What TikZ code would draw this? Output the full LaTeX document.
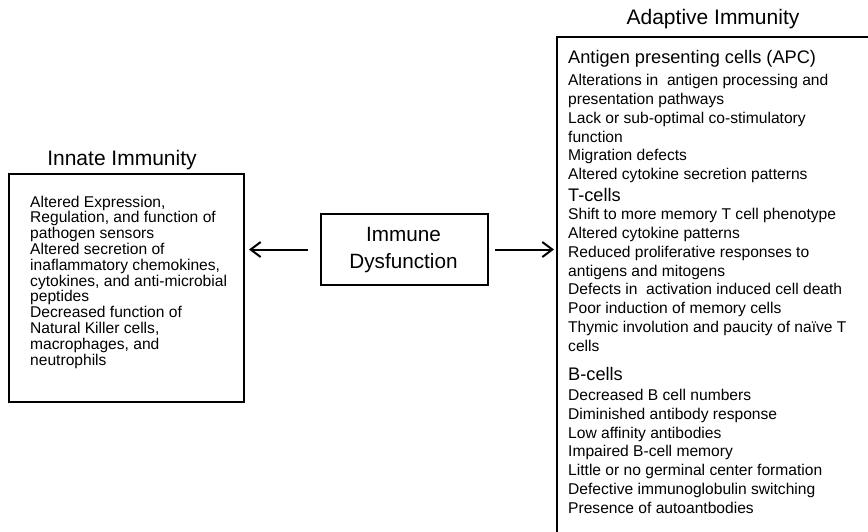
\documentclass[tikz,border=0pt]{standalone}
\usepackage{fontspec}
\setmainfont{Liberation Sans}
\usetikzlibrary{arrows.meta}
\begin{document}
\begin{tikzpicture}[x=1pt,y=-1pt,
  box/.style={draw=black, line width=2pt, inner sep=0pt, anchor=north west},
  lbody/.style={font=\fontsize{15.6}{15.8}\selectfont, align=left, anchor=base west, inner sep=0pt},
  rbody/.style={font=\fontsize{15.6}{18.75}\selectfont, align=left, anchor=base west, inner sep=0pt},
  head/.style={font=\fontsize{18.2}{20}\selectfont, anchor=base west, inner sep=0pt},
  title/.style={font=\fontsize{21}{24}\selectfont, anchor=base, inner sep=0pt},
  ctext/.style={font=\fontsize{20.7}{26.4}\selectfont, align=center, anchor=base, inner sep=0pt},
  arr/.style={line width=2pt, -{Straight Barb[length=10pt,width=15pt,line width=2pt]}}
]
\useasboundingbox (0,0) rectangle (868,531);
\clip (0,0) rectangle (868,531);

% titles
\node[title] (innatetitle) at (122,165) {Innate Immunity};
\node[title] (adaptivetitle) at (713,24.4) {Adaptive Immunity};

% boxes
\node[box, minimum width=235pt, minimum height=228pt] (innate) at (8,173) {};
\node[box, minimum width=167pt, minimum height=71pt] (center) at (320,213) {};
\node[box, minimum width=340pt, minimum height=520pt] (adaptive) at (556,36) {};

% centre text (base anchor = last line)
\node[ctext] (centertext) at (403.5,268) {Immune\\Dysfunction};

% innate text
\node[lbody] (innatetext) at (30,365) {Altered Expression,\\Regulation, and function of\\pathogen sensors\\Altered secretion of\\inaflammatory chemokines,\\cytokines, and anti-microbial\\peptides\\Decreased function of\\Natural Killer cells,\\macrophages, and\\neutrophils};

% adaptive text
\node[head] (apchead) at (568,63) {Antigen presenting cells (APC)};
\node[rbody] (apclist) at (568,179.6) {Alterations in\ \ antigen processing and\\presentation pathways\\Lack or sub-optimal co-stimulatory\\function\\Migration defects\\Altered cytokine secretion patterns};
\node[head] (thead) at (568,201) {T-cells};
\node[rbody] (tlist) at (568,351) {Shift to more memory T cell phenotype\\Altered cytokine patterns\\Reduced proliferative responses to\\antigens and mitogens\\Defects in\ \ activation induced cell death\\Poor induction of memory cells\\Thymic involution and paucity of naïve T\\cells};
\node[head] (bhead) at (568,380) {B-cells};
\node[rbody] (blist) at (568,513) {Decreased B cell numbers\\Diminished antibody response\\Low affinity antibodies\\Impaired B-cell memory\\Little or no germinal center formation\\Defective immunoglobulin switching\\Presence of autoantbodies};

% arrows
\draw[arr, shorten <=12pt, shorten >=4pt] (center.west) -- (center.west -| innate.east);
\draw[arr, shorten <=6pt, shorten >=2pt] (center.east) -- (center.east -| adaptive.west);
\end{tikzpicture}
\end{document}
